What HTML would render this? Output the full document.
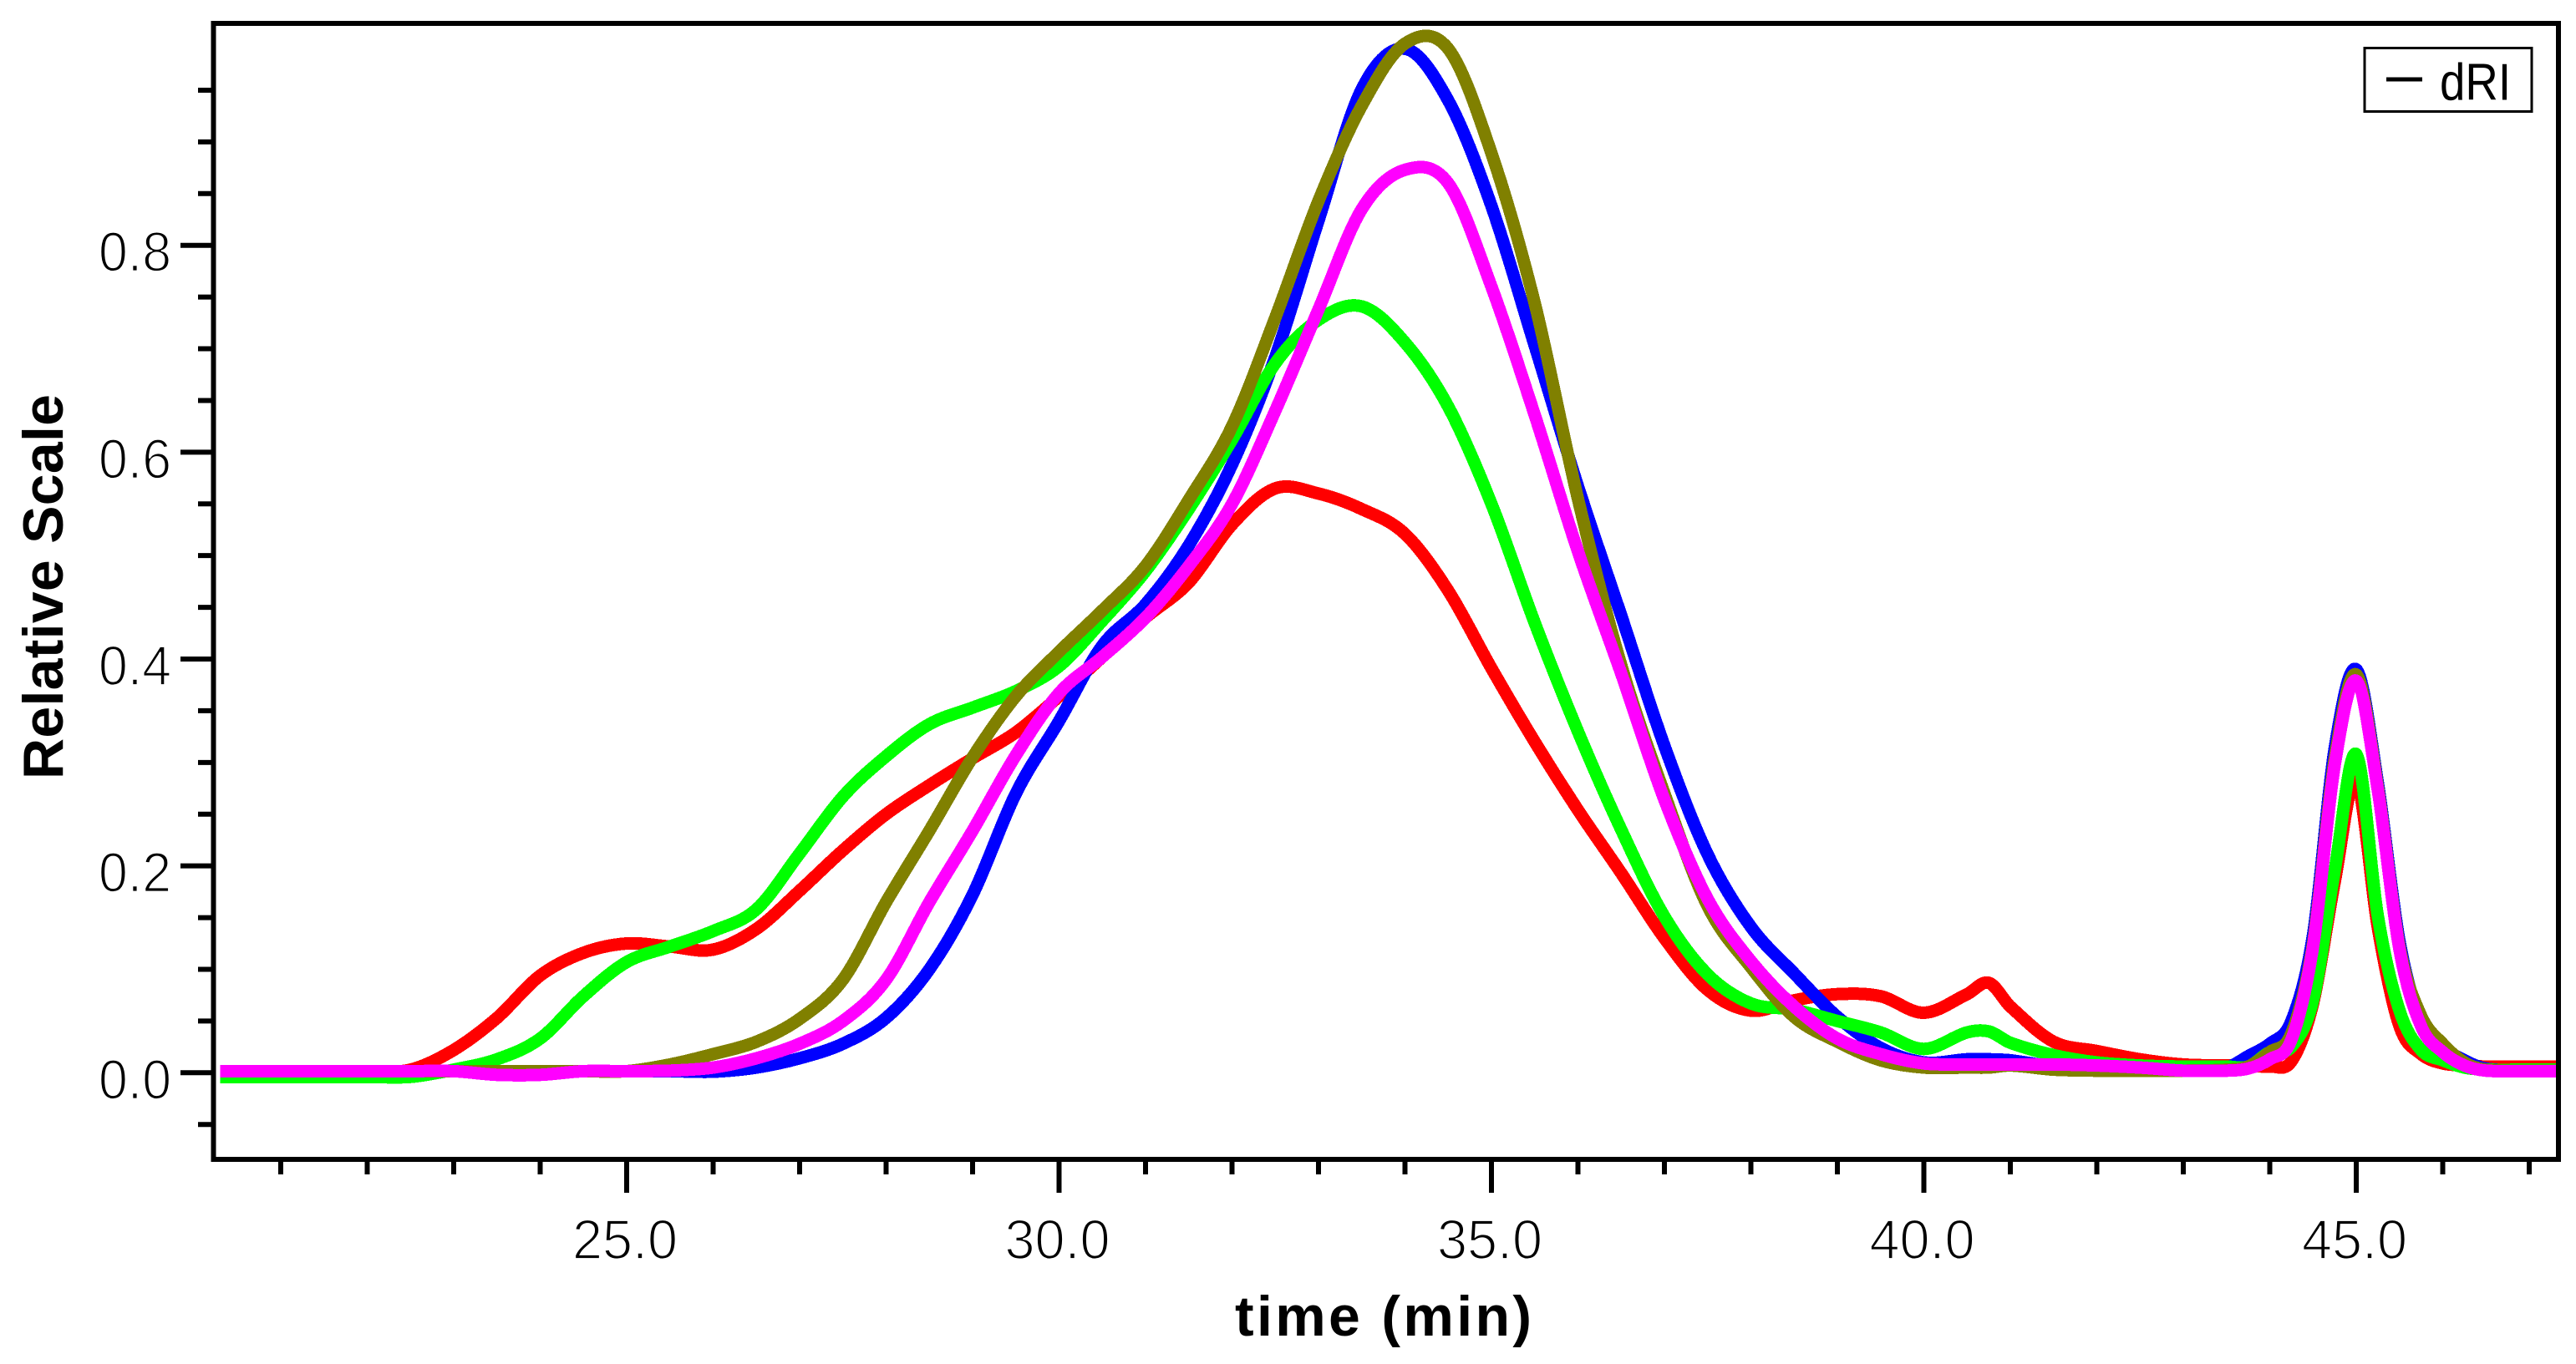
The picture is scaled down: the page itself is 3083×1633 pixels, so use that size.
<!DOCTYPE html>
<html lang="en">
<head>
<meta charset="utf-8">
<title>dRI chromatogram</title>
<style>
html,body{margin:0;padding:0;background:#fff;width:3083px;height:1633px;overflow:hidden}
svg{display:block}
text{font-family:"Liberation Sans",sans-serif;fill:#000}
.tick-label{font-size:67px;stroke:#fff;stroke-width:1.8px}
.axis-title{font-size:68px;font-weight:bold}
</style>
</head>
<body>
<svg id="chart" xmlns="http://www.w3.org/2000/svg" width="3083" height="1633" viewBox="0 0 3083 1633">
  <defs><clipPath id="plot-clip"><rect x="262" y="31" width="2799" height="1354"/></clipPath></defs>
  <rect x="0" y="0" width="3083" height="1633" fill="#fff"/>
  <g id="series-layer" clip-path="url(#plot-clip)"></g>
  <g id="tick-layer"></g>
  <rect x="255.5" y="28" width="2806.5" height="1360" fill="none" stroke="#000" stroke-width="6"/>
  <text class="axis-title" x="1478" y="1599" textLength="355" lengthAdjust="spacing">time (min)</text>
  <text class="axis-title" transform="translate(75 933) rotate(-90)" x="0" y="0" textLength="461" lengthAdjust="spacing">Relative Scale</text>
  <g>
    <rect x="2830" y="57.5" width="200" height="76" fill="#fff" stroke="#000" stroke-width="3"/>
    <line x1="2856" x2="2899" y1="95" y2="95" stroke="#000" stroke-width="5"/>
    <text x="2920" y="119.5" font-size="62" textLength="85" lengthAdjust="spacingAndGlyphs">dRI</text>
  </g>
</svg>
<script>
const times = [20.3,22,22.5,23,23.5,24,24.5,25,25.5,26,26.5,27,27.5,28,28.5,29,29.5,30,30.5,31,31.5,32,32.5,33,33.5,34,34.5,35,35.5,36,36.5,37,37.5,38,38.5,39,39.5,40,40.5,40.75,41,41.5,42,42.5,43,43.5,43.75,44,44.25,44.5,44.75,45,45.25,45.5,45.75,46,46.25,46.5,47,47.47];
const redValues = [.0015,.0015,.003,.022,.053,.094,.116,.125,.122,.119,.139,.176,.215,.25,.278,.304,.329,.364,.402,.44,.474,.53,.565,.56,.545,.521,.466,.391,.32,.254,.193,.13,.08,.06,.07,.076,.074,.058,.076,.087,.064,.03,.021,.013,.008,.007,.007,.006,.011,.067,.184,.282,.14,.045,.018,.009,.007,.006,.006,.006];
const blueValues = [.0015,.0015,.0015,.0015,.0015,.0015,.0015,.0015,.0015,.001,.005,.014,.028,.053,.1,.172,.27,.34,.413,.453,.51,.588,.692,.824,.951,.99,.94,.838,.703,.567,.442,.316,.211,.141,.096,.054,.024,.01,.013,.013,.012,.006,.003,.003,.003,.005,.016,.028,.05,.133,.313,.39,.28,.127,.05,.025,.012,.004,.002,.002];
const greenValues = [-.004,-.004,-.004,.003,.013,.033,.074,.107,.122,.137,.158,.212,.267,.306,.337,.353,.369,.393,.437,.485,.545,.612,.686,.728,.741,.706,.644,.55,.435,.33,.235,.151,.095,.067,.061,.05,.039,.023,.039,.04,.029,.017,.01,.007,.006,.006,.006,.02,.025,.07,.195,.308,.151,.06,.022,.012,.005,.003,.003,.003];
const oliveValues = [.0015,.0015,.0015,.0015,.0015,.0015,.0015,.0015,.008,.018,.03,.052,.09,.165,.234,.305,.364,.407,.447,.49,.554,.625,.73,.843,.935,.995,.99,.889,.744,.555,.394,.27,.161,.102,.054,.03,.012,.005,.005,.005,.007,.003,.002,.002,.002,.003,.006,.02,.038,.125,.303,.385,.276,.122,.055,.028,.01,.003,.002,.002];
const magentaValues = [.0015,.0015,.0015,.0015,-.002,-.002,.0015,.0015,.002,.005,.014,.028,.05,.09,.165,.234,.307,.367,.402,.44,.49,.55,.64,.738,.835,.873,.86,.76,.636,.504,.386,.264,.168,.108,.064,.033,.018,.009,.008,.008,.008,.008,.007,.005,.002,.002,.004,.013,.032,.122,.297,.379,.273,.119,.045,.02,.007,.002,.0015,.0015];

const xMajorTicks = [25,30,35,40,45];
const xMajorLabels = ["25.0","30.0","35.0","40.0","45.0"];
const xMinorTicks = [21,22,23,24,26,27,28,29,31,32,33,34,36,37,38,39,41,42,43,44,46,47];
const yMajorTicks = [0,0.2,0.4,0.6,0.8];
const yMajorLabels = ["0.0","0.2","0.4","0.6","0.8"];
const yMinorTicks = [-0.05,0.05,0.1,0.15,0.25,0.3,0.35,0.45,0.5,0.55,0.65,0.7,0.75,0.85,0.9,0.95];

const SVG_NS = 'http://www.w3.org/2000/svg';
function xScale(t){ return 750 + 103.5 * (t - 25); }
function yScale(v){ return 1284.3 - 1238.25 * v; }

function smoothPath(values){
  const pts = times.map((t,i)=>[xScale(t), yScale(values[i])]);
  let d = 'M' + pts[0][0].toFixed(1) + ' ' + pts[0][1].toFixed(1);
  for(let i=0;i<pts.length-1;i++){
    const p0=pts[Math.max(i-1,0)], p1=pts[i], p2=pts[i+1], p3=pts[Math.min(i+2,pts.length-1)];
    const seg=(p2[0]-p1[0]);
    const m1=(p2[1]-p0[1])/(p2[0]-p0[0]);
    const m2=(p3[1]-p1[1])/(p3[0]-p1[0]);
    d+=' C'+(p1[0]+seg/3).toFixed(1)+' '+(p1[1]+m1*seg/3).toFixed(1)+' '+(p2[0]-seg/3).toFixed(1)+' '+(p2[1]-m2*seg/3).toFixed(1)+' '+p2[0].toFixed(1)+' '+p2[1].toFixed(1);
  }
  return d;
}

const seriesLayer = document.getElementById('series-layer');
function addSeries(name, values, color){
  const path = document.createElementNS(SVG_NS,'path');
  path.setAttribute('d', smoothPath(values));
  path.setAttribute('fill','none');
  path.setAttribute('stroke',color);
  path.setAttribute('stroke-width','15');
  path.setAttribute('stroke-linejoin','round');
  path.setAttribute('shape-rendering','crispEdges');
  
  
  seriesLayer.appendChild(path);
}
addSeries('series-red-trace', redValues, '#ff0000');
addSeries('series-blue-trace', blueValues, '#0000ff');
addSeries('series-green-trace', greenValues, '#00ff00');
addSeries('series-olive-trace', oliveValues, '#808000');
addSeries('series-magenta-trace', magentaValues, '#ff00ff');

const tickLayer = document.getElementById('tick-layer');
function addLine(x1,y1,x2,y2,name){
  const l = document.createElementNS(SVG_NS,'line');
  l.setAttribute('x1',x1); l.setAttribute('y1',y1);
  l.setAttribute('x2',x2); l.setAttribute('y2',y2);
  l.setAttribute('stroke','#000'); l.setAttribute('stroke-width','6');
  
  
  tickLayer.appendChild(l);
}
function addLabel(x,y,str,anchor,len,name){
  const t = document.createElementNS(SVG_NS,'text');
  t.setAttribute('class','tick-label');
  t.setAttribute('x',x); t.setAttribute('y',y);
  t.setAttribute('textLength',len);
  t.setAttribute('lengthAdjust','spacingAndGlyphs');
  t.setAttribute('text-anchor',anchor);
  t.textContent = str;
  
  
  tickLayer.appendChild(t);
}
xMinorTicks.forEach(t=>{ addLine(xScale(t),1388,xScale(t),1406,'x-minor-tick'); });
xMajorTicks.forEach((t,i)=>{
  addLine(xScale(t),1388,xScale(t),1428,'x-major-tick');
  addLabel(xScale(t)-2,1507,xMajorLabels[i],'middle',126,'x-tick-label');
});
yMinorTicks.forEach(v=>{ addLine(237,yScale(v),255.5,yScale(v),'y-minor-tick'); });
yMajorTicks.forEach((v,i)=>{
  addLine(216,yScale(v),255.5,yScale(v),'y-major-tick');
  addLabel(205,yScale(v)+31,yMajorLabels[i],'end',87,'y-tick-label');
});
</script>
</body>
</html>
